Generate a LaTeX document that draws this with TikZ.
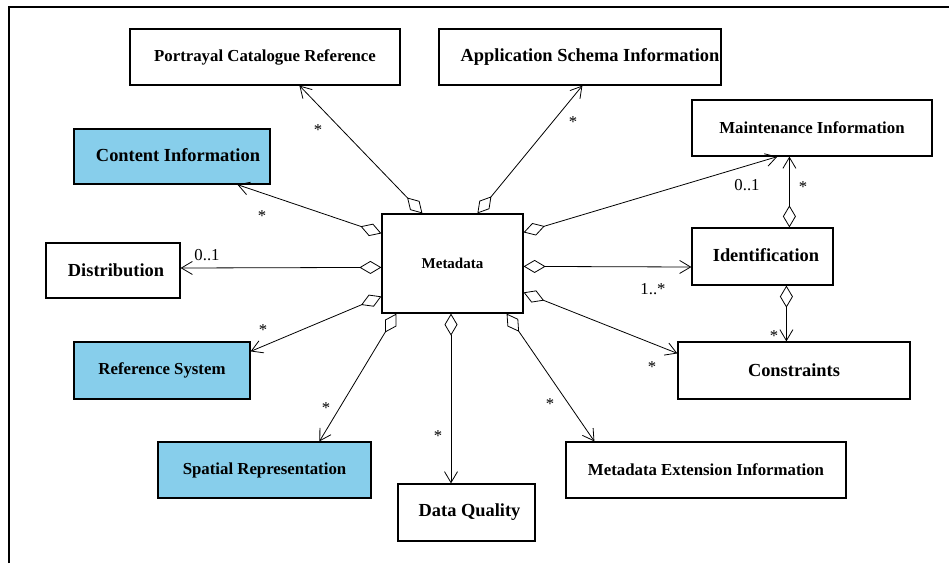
\documentclass[tikz,border=0pt]{standalone}
\usepackage{fontspec}
\setmainfont{Liberation Serif}
\usetikzlibrary{arrows.meta}
\definecolor{skyfill}{RGB}{135,206,235}

\tikzset{
  cls/.style={draw, line width=1.2pt, fill=white, inner sep=0pt,
    font=\bfseries\fontsize{16.8}{18}\selectfont},
  clsbig/.style={cls, font=\bfseries\fontsize{18.4}{20}\selectfont},
  tinted/.style={fill=skyfill},
  agg/.style={line width=0.8pt,
    {Diamond[open,length=22pt,width=13pt]}-{Straight Barb[length=11pt,width=13pt]}},
  mult/.style={anchor=base, inner sep=0pt, font=\fontsize{16.7}{18}\selectfont},
}

\begin{document}
\begin{tikzpicture}[x=1pt,y=-1pt]
  \useasboundingbox (0,0) rectangle (949,563);
  \draw[line width=2pt] (9,563) -- (9,7) -- (949,7);

  % classes
  \node[cls, minimum width=270, minimum height=56] (pcr) at (265,57) {Portrayal Catalogue Reference};
  \node[clsbig, minimum width=282, minimum height=56] (asi) at (580,57) {\raisebox{1pt}{\hspace{20pt}Application Schema Information}};
  \node[clsbig, tinted, minimum width=196, minimum height=55] (cinfo) at (172,156.5) {\raisebox{2pt}{\hspace{12pt}Content Information}};
  \node[cls, minimum width=240, minimum height=56] (maint) at (812,128) {Maintenance Information};
  \node[cls, font=\bfseries\fontsize{15}{17}\selectfont, minimum width=141, minimum height=99] (meta) at (452.5,263.5) {\raisebox{1pt}{Metadata}};
  \node[clsbig, minimum width=134, minimum height=55] (dist) at (113,270.5) {\raisebox{1pt}{\hspace{6pt}Distribution}};
  \node[clsbig, minimum width=141, minimum height=57] (ident) at (762.5,256.5) {\raisebox{2pt}{\hspace{7pt}Identification}};
  \node[cls, tinted, minimum width=176, minimum height=57] (refsys) at (162,370.5) {Reference System};
  \node[clsbig, minimum width=232, minimum height=57] (cons) at (794,370.5) {\raisebox{1pt}{Constraints}};
  \node[cls, tinted, minimum width=213, minimum height=56] (spat) at (264.5,470) {Spatial Representation};
  \node[cls, minimum width=280, minimum height=56] (mext) at (706,470) {Metadata Extension Information};
  \node[clsbig, minimum width=137, minimum height=57] (dq) at (466.5,512.5) {\hspace{6pt}Data Quality};

  % aggregations
  \draw[agg] ([xshift=41pt]meta.north west) -- ([xshift=170pt]pcr.south west);
  \draw[agg] ([xshift=96pt]meta.north west) -- ([xshift=144pt]asi.south west);
  \draw[agg] ([yshift=-20pt]meta.north west) -- ([xshift=164pt]cinfo.south west);
  \draw[agg] ([yshift=-54pt]meta.north west) -- ([yshift=2.5pt]dist.east);
  \draw[agg] ([yshift=-83pt]meta.north west) -- ([yshift=-10pt]refsys.north east);
  \draw[agg] ([xshift=15pt]meta.south west) -- ([xshift=162pt]spat.north west);
  \draw[agg] ([xshift=-1.5pt]meta.south) -- ([xshift=-1.5pt]meta.south |- dq.north);
  \draw[agg] ([xshift=-17pt]meta.south east) -- ([xshift=29pt]mext.north west);
  \draw[agg] ([yshift=-79pt]meta.north east) -- ([yshift=-12pt]cons.north west);
  \draw[agg] ([yshift=-53pt]meta.north east) -- ([yshift=-10.5pt]ident.west);
  \draw[agg] ([yshift=-19pt]meta.north east) -- ([xshift=86pt]maint.south west);
  \draw[agg] ([xshift=98pt]ident.north west) -- ([xshift=98pt]ident.north west |- maint.south);
  \draw[agg] ([xshift=95pt]ident.south west) -- ([xshift=95pt]ident.south west |- cons.north);

  % multiplicities
  \node[mult] (mpcr) at (318,135) {*};
  \node[mult] (mcinfo) at (262,221) {*};
  \node[mult] (mdist) at (207,260) {0..1};
  \node[mult] (masi) at (573,127) {*};
  \node[mult] (mmaint) at (747,190) {0..1};
  \node[mult] (midmaint) at (803,192) {*};
  \node[mult] (mident) at (653,294) {1..*};
  \node[mult] (midcons) at (774,341) {*};
  \node[mult] (mcons) at (652,372) {*};
  \node[mult] (mmext) at (550,409) {*};
  \node[mult] (mrefsys) at (263,335) {*};
  \node[mult] (mspat) at (326,413) {*};
  \node[mult] (mdq) at (438,441) {*};
\end{tikzpicture}
\end{document}
